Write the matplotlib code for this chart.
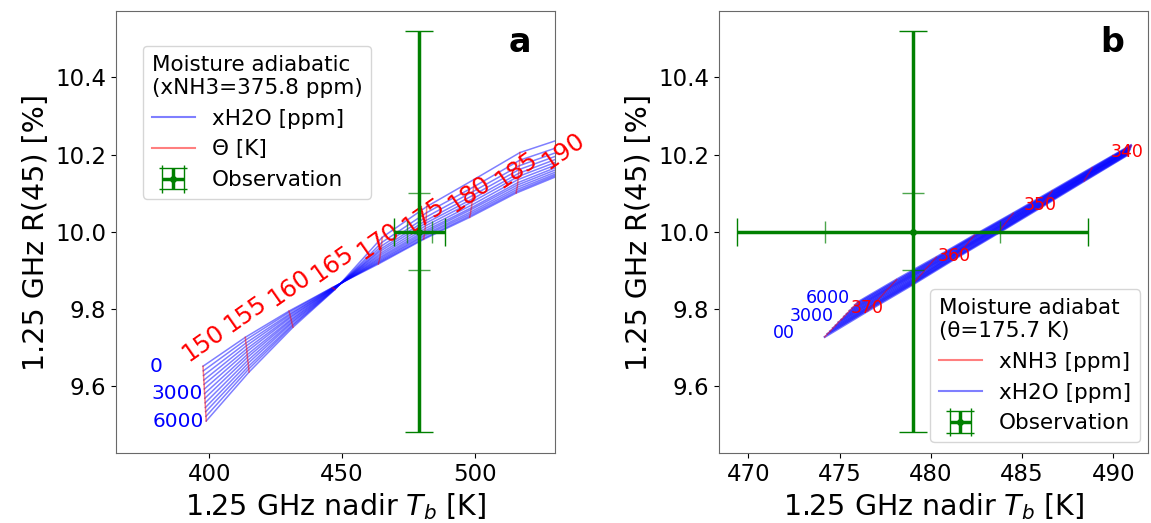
import numpy as np
import matplotlib.pyplot as plt
from matplotlib.lines import Line2D

# ---- panel a: moist adiabats, xNH3 fixed, theta x xH2O grid ----
theta_a = [150, 155, 160, 165, 170, 175, 180, 185, 190]
h2o = [0, 500, 1000, 1500, 2000, 2500, 3000, 3500, 4000, 4500, 5000, 5500, 6000]

# rows: theta, columns: xH2O
tb_a = [
    [397.7, 397.8, 397.9, 398.0, 398.1, 398.2, 398.3, 398.4, 398.5, 398.6, 398.7, 398.8, 398.9],
    [413.6, 413.7, 413.8, 414.0, 414.1, 414.2, 414.3, 414.4, 414.5, 414.7, 414.8, 414.9, 415.0],
    [430.0, 430.1, 430.3, 430.4, 430.5, 430.6, 430.8, 430.9, 431.0, 431.1, 431.3, 431.4, 431.5],
    [446.3, 446.4, 446.5, 446.5, 446.6, 446.7, 446.8, 446.9, 447.0, 447.1, 447.1, 447.2, 447.3],
    [463.6, 463.7, 463.8, 464.0, 464.1, 464.2, 464.3, 464.4, 464.5, 464.7, 464.8, 464.9, 465.0],
    [480.6, 480.7, 480.8, 480.9, 481.0, 481.1, 481.2, 481.3, 481.4, 481.5, 481.6, 481.7, 481.8],
    [497.9, 498.0, 498.2, 498.3, 498.4, 498.6, 498.7, 498.8, 499.0, 499.1, 499.2, 499.4, 499.5],
    [515.4, 515.5, 515.6, 515.8, 515.9, 516.0, 516.1, 516.2, 516.3, 516.5, 516.6, 516.7, 516.8],
    [533.0, 533.1, 533.2, 533.3, 533.4, 533.5, 533.7, 533.8, 533.9, 534.0, 534.1, 534.2, 534.3],
]
r_a = [
    [9.651, 9.639, 9.627, 9.615, 9.604, 9.592, 9.580, 9.568, 9.556, 9.544, 9.533, 9.521, 9.509],
    [9.726, 9.719, 9.711, 9.704, 9.696, 9.689, 9.681, 9.674, 9.666, 9.659, 9.651, 9.644, 9.636],
    [9.794, 9.791, 9.787, 9.784, 9.780, 9.777, 9.773, 9.770, 9.766, 9.763, 9.759, 9.756, 9.752],
    [9.855, 9.855, 9.854, 9.854, 9.853, 9.853, 9.853, 9.852, 9.852, 9.851, 9.851, 9.850, 9.850],
    [9.916, 9.919, 9.922, 9.926, 9.930, 9.934, 9.939, 9.944, 9.950, 9.956, 9.963, 9.972, 9.985],
    [9.980, 9.983, 9.988, 9.992, 9.997, 10.002, 10.008, 10.015, 10.022, 10.029, 10.038, 10.049, 10.065],
    [10.037, 10.041, 10.046, 10.051, 10.057, 10.062, 10.069, 10.077, 10.085, 10.094, 10.104, 10.116, 10.135],
    [10.100, 10.104, 10.109, 10.115, 10.121, 10.127, 10.135, 10.143, 10.151, 10.161, 10.171, 10.185, 10.205],
    [10.150, 10.154, 10.158, 10.163, 10.169, 10.175, 10.182, 10.189, 10.197, 10.205, 10.214, 10.226, 10.245],
]

# ---- panel b: moist adiabat, theta fixed, xNH3 x xH2O grid ----
nh3_b = [340, 345, 350, 355, 360, 365, 370, 375]
tb_b = [
    [490.75, 490.77, 490.79, 490.81, 490.82, 490.84, 490.86, 490.88, 490.90, 490.92, 490.93, 490.95, 490.97],
    [488.40, 488.44, 488.47, 488.51, 488.55, 488.58, 488.62, 488.66, 488.69, 488.73, 488.77, 488.80, 488.84],
    [486.00, 486.05, 486.11, 486.16, 486.22, 486.27, 486.33, 486.38, 486.43, 486.49, 486.54, 486.60, 486.65],
    [483.65, 483.72, 483.80, 483.87, 483.94, 484.01, 484.09, 484.16, 484.23, 484.30, 484.38, 484.45, 484.52],
    [481.30, 481.39, 481.48, 481.57, 481.66, 481.75, 481.85, 481.94, 482.03, 482.12, 482.21, 482.30, 482.39],
    [478.95, 479.06, 479.18, 479.29, 479.40, 479.52, 479.63, 479.74, 479.86, 479.97, 480.08, 480.20, 480.31],
    [476.54, 476.67, 476.81, 476.94, 477.07, 477.20, 477.34, 477.47, 477.60, 477.73, 477.87, 478.00, 478.13],
    [474.19, 474.34, 474.49, 474.64, 474.79, 474.94, 475.10, 475.25, 475.40, 475.55, 475.70, 475.85, 476.00],
]
r_b = [
    [10.198, 10.200, 10.202, 10.205, 10.207, 10.209, 10.211, 10.213, 10.215, 10.218, 10.220, 10.222, 10.224],
    [10.131, 10.134, 10.137, 10.140, 10.143, 10.146, 10.149, 10.151, 10.154, 10.157, 10.160, 10.163, 10.166],
    [10.062, 10.066, 10.069, 10.073, 10.077, 10.080, 10.084, 10.088, 10.091, 10.095, 10.099, 10.102, 10.106],
    [9.995, 9.999, 10.004, 10.008, 10.013, 10.017, 10.022, 10.026, 10.030, 10.035, 10.039, 10.044, 10.048],
    [9.929, 9.934, 9.939, 9.945, 9.950, 9.955, 9.960, 9.965, 9.970, 9.976, 9.981, 9.986, 9.991],
    [9.861, 9.867, 9.873, 9.879, 9.885, 9.891, 9.898, 9.904, 9.910, 9.916, 9.922, 9.928, 9.934],
    [9.794, 9.801, 9.808, 9.814, 9.821, 9.828, 9.835, 9.842, 9.849, 9.855, 9.862, 9.869, 9.876],
    [9.727, 9.735, 9.742, 9.750, 9.757, 9.765, 9.772, 9.780, 9.787, 9.795, 9.802, 9.810, 9.817],
]
nh3_labelled = [340, 350, 360, 370]
h2o_labelled = [0, 3000, 6000]
h2o_tags_b = ["00", "3000", "6000"]

# ---- observation ----
obs_tb = 479.0
obs_r = 10.0
obs_tb_err = [9.6, 4.8]
obs_r_err = [0.52, 0.10]

tb_a = np.array(tb_a)
r_a = np.array(r_a)
tb_b = np.array(tb_b)
r_b = np.array(r_b)

fig = plt.figure(figsize=(11.51, 5.23), dpi=100)
ax1 = fig.add_axes([0.1008, 0.1338, 0.3814, 0.8451])
ax2 = fig.add_axes([0.6247, 0.1338, 0.3727, 0.8451])

tick_fs = 16.5
label_fs = 20.5
leg_fs = 15.5


def observation(ax):
    h = ax.errorbar(obs_tb, obs_r, xerr=obs_tb_err[0], yerr=obs_r_err[0], fmt='o', color='green',
                    ms=4, lw=2.5, capsize=10, capthick=1, zorder=5)
    ax.errorbar(obs_tb, obs_r, xerr=obs_tb_err[1], yerr=obs_r_err[1], fmt='none', ecolor='green',
                lw=1, capsize=8, capthick=1, alpha=0.7, zorder=5)
    return h


# panel a
for j in range(len(h2o)):
    ax1.plot(tb_a[:, j], r_a[:, j], color='blue', alpha=0.5, lw=1.1)
for i in range(len(theta_a)):
    ax1.plot(tb_a[i, :], r_a[i, :], color='red', alpha=0.5, lw=1.1)
    ax1.text(tb_a[i, 0], r_a[i, 0], str(theta_a[i]), color='red', fontsize=17.5,
             rotation=35, ha='center', va='bottom')
for w in h2o_labelled:
    j = h2o.index(w)
    ax1.text(tb_a[0, j] - 20, r_a[0, j], str(w), color='blue', fontsize=14.5,
             ha='left', va='center')
obs_a = observation(ax1)

ax1.set_xlim(365, 530)
ax1.set_ylim(9.426, 10.572)
ax1.set_xticks([400, 450, 500])
ax1.set_yticks([9.6, 9.8, 10.0, 10.2, 10.4])
handles_a = [Line2D([], [], color='blue', alpha=0.5, lw=1.5),
             Line2D([], [], color='red', alpha=0.5, lw=1.5), obs_a]
ax1.legend(handles_a, ['xH2O [ppm]', '\u0398 [K]', 'Observation'],
           title='Moisture adiabatic\n(xNH3=375.8 ppm)', alignment='left',
           fontsize=leg_fs, title_fontsize=leg_fs, loc='upper left',
           bbox_to_anchor=(0.0615, 0.921), borderaxespad=0)
ax1.text(0.92, 0.928, 'a', transform=ax1.transAxes, fontsize=24, fontweight='bold',
         ha='center', va='center')

# panel b
for j in range(len(h2o)):
    ax2.plot(tb_b[:, j], r_b[:, j], color='blue', alpha=0.55, lw=1.6)
for i in range(len(nh3_b)):
    ax2.plot(tb_b[i, :], r_b[i, :], color='red', alpha=0.5, lw=1)
for n in nh3_labelled:
    i = nh3_b.index(n)
    ax2.text(tb_b[i, 0], r_b[i, 0] + 0.008, str(n), color='red', fontsize=12.5,
             ha='center', va='center')
for w, tag in zip(h2o_labelled, h2o_tags_b):
    j = h2o.index(w)
    ax2.text(tb_b[-1, j] - 2.85, r_b[-1, j] + 0.01, tag, color='blue', fontsize=12.5,
             ha='left', va='center')
obs_b = observation(ax2)

ax2.set_xlim(468.4, 491.9)
ax2.set_ylim(9.426, 10.572)
ax2.set_xticks([470, 475, 480, 485, 490])
ax2.set_yticks([9.6, 9.8, 10.0, 10.2, 10.4])
handles_b = [Line2D([], [], color='red', alpha=0.5, lw=1.5),
             Line2D([], [], color='blue', alpha=0.5, lw=1.5), obs_b]
ax2.legend(handles_b, ['xNH3 [ppm]', 'xH2O [ppm]', 'Observation'],
           title='Moisture adiabat\n(\u03b8=175.7 K)', alignment='left',
           fontsize=leg_fs, title_fontsize=leg_fs, loc='lower right',
           bbox_to_anchor=(0.981, 0.025), borderaxespad=0)
ax2.text(0.916, 0.928, 'b', transform=ax2.transAxes, fontsize=24, fontweight='bold',
         ha='center', va='center')

for ax in (ax1, ax2):
    ax.tick_params(labelsize=tick_fs)
    ax.set_xlabel('1.25 GHz nadir $T_b$ [K]', fontsize=label_fs)
    ax.set_ylabel('1.25 GHz R(45) [%]', fontsize=label_fs)
    for s in ax.spines.values():
        s.set_edgecolor('dimgray')

fig.savefig('out.png', dpi=100)
